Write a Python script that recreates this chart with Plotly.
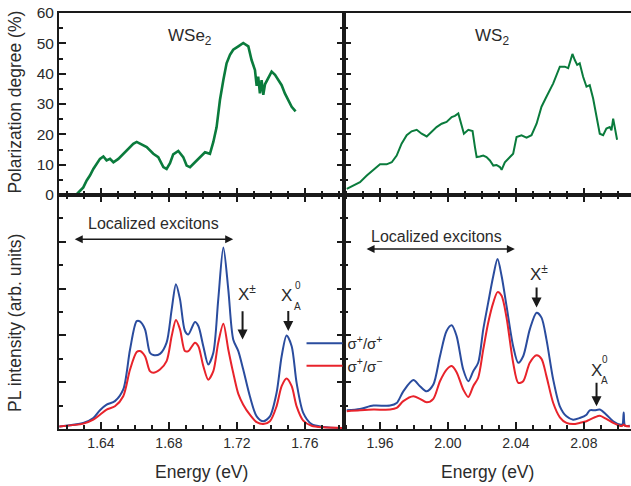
import plotly.graph_objects as go

# ---------------- data ----------------
# WSe2 polarization degree (%)
wse2_pol_E = [1.6253, 1.6276, 1.6296, 1.6316, 1.6335, 1.6355, 1.6375, 1.6394, 1.6414, 1.6433,
              1.6453, 1.6473, 1.6502, 1.6531, 1.6561, 1.6590, 1.6610, 1.6629, 1.6669, 1.6708,
              1.6737, 1.6767, 1.6786, 1.6806, 1.6825, 1.6855, 1.6884, 1.6904, 1.6924, 1.6953,
              1.6982, 1.7012, 1.7041, 1.7061, 1.7080, 1.7100, 1.7120, 1.7139, 1.7159, 1.7178,
              1.7208, 1.7237, 1.7267, 1.7286, 1.7306, 1.7316, 1.7325, 1.7335, 1.7345, 1.7355,
              1.7365, 1.7384, 1.7404, 1.7424, 1.7443, 1.7463, 1.7482, 1.7502, 1.7522, 1.7545]
wse2_pol = [0.0, 1.4, 2.5, 4.8, 6.4, 8.6, 10.3, 11.9, 12.7, 11.4,
            11.9, 10.8, 11.9, 13.6, 15.3, 16.9, 17.5, 16.9, 15.8, 13.6,
            12.5, 9.2, 8.6, 10.5, 13.4, 14.5, 12.5, 9.7, 9.2, 10.8,
            12.5, 14.1, 13.6, 17.5, 22.3, 31.3, 37.9, 43.4, 46.2, 47.9,
            49.0, 50.1, 49.0, 44.5, 41.2, 36.0, 39.0, 33.5, 37.9, 33.0,
            36.5, 38.5, 40.7, 39.6, 37.9, 36.2, 33.5, 31.3, 29.1, 27.6]

# WS2 polarization degree (%)
ws2_pol_E = [1.9404, 1.9443, 1.9482, 1.9522, 1.9561, 1.9600, 1.9639, 1.9669, 1.9698, 1.9727,
             1.9757, 1.9786, 1.9816, 1.9845, 1.9875, 1.9904, 1.9933, 1.9963, 1.9992, 2.0022,
             2.0041, 2.0061, 2.0075, 2.0094, 2.0120, 2.0145, 2.0159, 2.0169, 2.0188, 2.0208,
             2.0227, 2.0247, 2.0267, 2.0286, 2.0306, 2.0316, 2.0335, 2.0365, 2.0384, 2.0404,
             2.0433, 2.0463, 2.0492, 2.0522, 2.0551, 2.0580, 2.0620, 2.0659, 2.0688, 2.0708,
             2.0733, 2.0747, 2.0761, 2.0776, 2.0796, 2.0816, 2.0835, 2.0855, 2.0875, 2.0894,
             2.0914, 2.0933, 2.0953, 2.0963, 2.0973, 2.0982, 2.0996]
ws2_pol = [2.0, 3.1, 4.2, 6.4, 8.3, 10.1, 10.1, 10.8, 13.0, 16.9,
           19.7, 21.0, 21.5, 20.2, 19.3, 20.8, 22.4, 23.5, 24.1, 25.7,
           26.1, 26.9, 24.1, 20.2, 21.5, 21.1, 15.8, 12.5, 12.7, 13.0,
           12.5, 11.4, 9.7, 9.9, 9.2, 8.3, 10.8, 12.5, 13.6, 19.1,
           19.7, 18.9, 19.7, 23.5, 29.1, 32.4, 36.8, 42.3, 42.3, 41.8,
           46.5, 44.5, 42.9, 43.4, 39.0, 35.7, 36.2, 31.8, 25.7, 20.2,
           19.7, 21.9, 22.4, 21.3, 25.2, 21.9, 18.2]

# WSe2 PL spectra (arb. units)
wse2_E = [1.6155, 1.6296, 1.6355, 1.6394, 1.6433, 1.6482, 1.6531, 1.6571, 1.6610, 1.6629,
          1.6659, 1.6688, 1.6708, 1.6747, 1.6786, 1.6816, 1.6841, 1.6865, 1.6894, 1.6914,
          1.6953, 1.6973, 1.7002, 1.7031, 1.7061, 1.7090, 1.7120, 1.7149, 1.7178, 1.7208,
          1.7237, 1.7276, 1.7316, 1.7355, 1.7394, 1.7433, 1.7463, 1.7492, 1.7522, 1.7551,
          1.7590, 1.7639, 1.7708, 1.7825]
wse2_pp = [0.11, 0.26, 0.47, 0.80, 1.04, 1.19, 1.69, 3.40, 4.61, 4.60,
           4.26, 3.26, 3.16, 3.21, 3.69, 5.11, 6.19, 5.54, 4.19, 4.04,
           4.57, 4.40, 3.54, 2.76, 3.26, 5.54, 7.76, 5.97, 3.83, 3.33,
           2.54, 1.40, 0.54, 0.33, 0.54, 1.54, 3.11, 4.00, 3.54, 1.97,
           0.69, 0.21, 0.09, 0.04]
wse2_pm = [0.11, 0.23, 0.40, 0.61, 0.83, 0.97, 1.40, 2.54, 3.29, 3.33,
           3.11, 2.47, 2.40, 2.54, 2.90, 3.97, 4.66, 4.26, 3.33, 3.33,
           3.69, 3.54, 2.69, 2.11, 2.47, 3.69, 4.50, 3.40, 2.40, 1.50,
           1.04, 0.61, 0.29, 0.21, 0.33, 0.97, 1.83, 2.16, 1.83, 0.97,
           0.36, 0.14, 0.07, 0.04]

# WS2 PL spectra (arb. units)
ws2_E = [1.9404, 1.9482, 1.9561, 1.9659, 1.9698, 1.9737, 1.9796, 1.9835, 1.9875, 1.9914,
         1.9953, 1.9992, 2.0022, 2.0051, 2.0090, 2.0120, 2.0149, 2.0178, 2.0208, 2.0237,
         2.0267, 2.0292, 2.0316, 2.0345, 2.0384, 2.0414, 2.0443, 2.0482, 2.0522, 2.0551,
         2.0580, 2.0620, 2.0659, 2.0698, 2.0737, 2.0776, 2.0816, 2.0835, 2.0865, 2.0894,
         2.0933, 2.0973, 2.1012, 2.1027, 2.1035, 2.1043, 2.1071]
ws2_pp = [0.80, 0.86, 1.00, 1.00, 1.11, 1.61, 2.09, 1.83, 1.61, 1.90,
          3.11, 4.19, 4.43, 3.97, 2.54, 2.04, 2.47, 2.83, 4.26, 5.40,
          6.54, 7.26, 6.54, 5.26, 3.54, 2.83, 3.11, 4.26, 4.97, 4.76,
          3.83, 2.11, 0.97, 0.54, 0.40, 0.47, 0.61, 0.80, 0.80, 0.83,
          0.61, 0.33, 0.19, 0.19, 0.71, 0.14, 0.14]
ws2_pm = [0.76, 0.80, 0.83, 0.83, 0.90, 1.19, 1.40, 1.29, 1.14, 1.29,
          2.04, 2.54, 2.69, 2.43, 1.69, 1.37, 1.83, 2.19, 3.40, 4.54,
          5.40, 5.85, 5.69, 4.76, 2.83, 1.97, 2.04, 2.83, 3.15, 3.00,
          2.26, 1.11, 0.50, 0.26, 0.21, 0.26, 0.33, 0.40, 0.50, 0.57,
          0.43, 0.26, 0.14, 0.14, 0.19, 0.14, 0.11]

pl_tick_major = [2, 4, 6, 8]
x_ticks_wse2 = [1.64, 1.68, 1.72, 1.76]
x_ticks_ws2 = [1.96, 2.00, 2.04, 2.08]

# ---------------- styling ----------------
BLUE = "#2a4c9e"
RED = "#e8232b"
GREEN = "#0a7b3c"
AX = "#1a1a1a"
TXT = "#2b2b2b"
FONT = "Liberation Sans, Arial, sans-serif"

fig = go.Figure()

fig.add_trace(go.Scatter(x=wse2_pol_E, y=wse2_pol, mode="lines", line=dict(color=GREEN, width=2.6),
                         xaxis="x", yaxis="y", showlegend=False))
fig.add_trace(go.Scatter(x=ws2_pol_E, y=ws2_pol, mode="lines", line=dict(color=GREEN, width=2),
                         xaxis="x2", yaxis="y2", showlegend=False))
fig.add_trace(go.Scatter(x=wse2_E, y=wse2_pp, mode="lines", line=dict(color=BLUE, width=2, shape="spline", smoothing=0.8),
                         xaxis="x3", yaxis="y3", name="σ<sup>+</sup>/σ<sup>+</sup>"))
fig.add_trace(go.Scatter(x=wse2_E, y=wse2_pm, mode="lines", line=dict(color=RED, width=2, shape="spline", smoothing=0.8),
                         xaxis="x3", yaxis="y3", name="σ<sup>+</sup>/σ<sup>−</sup>"))
fig.add_trace(go.Scatter(x=ws2_E, y=ws2_pp, mode="lines", line=dict(color=BLUE, width=2, shape="spline", smoothing=0.8),
                         xaxis="x4", yaxis="y4", showlegend=False))
fig.add_trace(go.Scatter(x=ws2_E, y=ws2_pm, mode="lines", line=dict(color=RED, width=2, shape="spline", smoothing=0.8),
                         xaxis="x4", yaxis="y4", showlegend=False))

XL = [0, 0.4983]
XR = [0.4983, 1.0]
YT = [0.5625, 1.0]
YB = [0.0, 0.5625]

def xax(domain, anchor, rng, ticks, labels, mirror):
    return dict(domain=domain, anchor=anchor, range=rng, showline=True, linecolor=AX, linewidth=2,
                mirror=mirror, ticks="inside", ticklen=7, tickwidth=2, tickcolor=AX,
                tickvals=ticks, ticktext=[f"{t:.2f}" for t in ticks], showticklabels=labels,
                minor=dict(dtick=0.01, tick0=1.6, ticks="inside", ticklen=4, tickwidth=2, tickcolor=AX),
                showgrid=False, zeroline=False, automargin=False, ticklabeloverflow="allow",
                tickfont=dict(size=14, color=TXT, family=FONT))

def yax(domain, anchor, rng, tickvals, labels, mirror, minor_dtick):
    return dict(domain=domain, anchor=anchor, range=rng, showline=True, linecolor=AX, linewidth=2,
                mirror=mirror, ticks="inside", ticklen=7, tickwidth=2, tickcolor=AX,
                tickvals=tickvals, showticklabels=labels,
                minor=dict(dtick=minor_dtick, tick0=0, ticks="inside", ticklen=4, tickwidth=2, tickcolor=AX),
                showgrid=False, zeroline=False, automargin=False, ticklabeloverflow="allow",
                tickfont=dict(size=15.5, color=TXT, family=FONT))

fig.update_layout(
    width=631, height=486,
    margin=dict(l=59, r=0, t=13, b=57),
    paper_bgcolor="white", plot_bgcolor="white",
    font=dict(family=FONT, color=TXT),
    xaxis=xax(XL, "y", [1.6153, 1.783], x_ticks_wse2, False, True),
    xaxis2=xax(XR, "y2", [1.9388, 2.1078], x_ticks_ws2, False, True),
    xaxis3=xax(XL, "y3", [1.6153, 1.783], x_ticks_wse2, True, "ticks"),
    xaxis4=xax(XR, "y4", [1.9388, 2.1078], x_ticks_ws2, True, "ticks"),
    yaxis=yax(YT, "x", [0, 60], [0, 10, 20, 30, 40, 50, 60], True, "ticks", 5),
    yaxis2=yax(YT, "x2", [0, 60], [0, 10, 20, 30, 40, 50, 60], False, False, 5),
    yaxis3=yax(YB, "x3", [0, 10], pl_tick_major, False, "ticks", 1),
    yaxis4=yax(YB, "x4", [0, 10], pl_tick_major, False, False, 1),
    legend=dict(x=0.424, y=0.245, xanchor="left", yanchor="top", bgcolor="rgba(0,0,0,0)",
                font=dict(size=15, color=TXT, family=FONT), tracegroupgap=0, itemwidth=36),
)

def txt(x, y, xref, yref, text, size, angle=0):
    return dict(x=x, y=y, xref=xref, yref=yref, text=text, showarrow=False, textangle=angle,
                xanchor="center", yanchor="middle", font=dict(size=size, color=TXT, family=FONT))

ann = []
# panel titles
ann.append(txt(1.6924, 52, "x", "y", "WSe<sub>2</sub>", 17))
ann.append(txt(2.0259, 52, "x2", "y2", "WS<sub>2</sub>", 17))
# axis titles
ann.append(txt(-0.077, 0.787, "paper", "paper", "Polarization degree (%)", 17.5, -90))
ann.append(txt(-0.077, 0.255, "paper", "paper", "PL intensity (arb. units)", 17.5, -90))
ann.append(txt(0.249, -0.103, "paper", "paper", "Energy (eV)", 17.5))
ann.append(txt(0.749, -0.103, "paper", "paper", "Energy (eV)", 17.5))
# localized excitons
ann.append(txt(1.6709, 8.77, "x3", "y3", "Localized excitons", 16))
ann.append(txt(1.9935, 8.22, "x4", "y4", "Localized excitons", 16))
for (xa, ya, x0, x1, yy) in [("x3", "y3", 1.6237, 1.7178, 8.11), ("x4", "y4", 1.9512, 2.0394, 7.69)]:
    ann.append(dict(x=x1, y=yy, ax=x0, ay=yy, xref=xa, yref=ya, axref=xa, ayref=ya, text="",
                    showarrow=True, arrowhead=2, startarrowhead=2, arrowside="end+start",
                    arrowsize=1, startarrowsize=1, arrowwidth=1.6, arrowcolor=AX))
# X± labels
ann.append(txt(1.7257, 5.8, "x3", "y3", "X<sup>±</sup>", 17))
ann.append(txt(2.0535, 6.66, "x4", "y4", "X<sup>±</sup>", 17))
# X_A^0 labels
for (xa, ya, xX, yX, xs, ysup, ysub) in [("x3", "y3", 1.7492, 5.69, 1.7559, 6.15, 5.25),
                                          ("x4", "y4", 2.0875, 2.5, 2.0924, 2.96, 2.06)]:
    ann.append(txt(xX, yX, xa, ya, "X", 17))
    ann.append(txt(xs, ysup, xa, ya, "0", 10))
    ann.append(txt(xs, ysub, xa, ya, "A", 10))
# down arrows
for (xa, ya, xx, y0, y1) in [("x3", "y3", 1.7233, 5.1, 3.83), ("x3", "y3", 1.7502, 5.11, 4.19),
                             ("x4", "y4", 2.0522, 6.11, 5.19), ("x4", "y4", 2.0875, 2.04, 0.97)]:
    ann.append(dict(x=xx, y=y1, ax=xx, ay=y0, xref=xa, yref=ya, axref=xa, ayref=ya, text="",
                    showarrow=True, arrowhead=2, arrowsize=1, arrowwidth=2, arrowcolor=AX))

fig.update_layout(annotations=ann)
# remove the page's default 8px body margin so the figure fills the window exactly
fig.write_html("out.html", config={"displayModeBar": False},
               post_script="document.body.style.margin='0';document.body.style.overflow='hidden';")
